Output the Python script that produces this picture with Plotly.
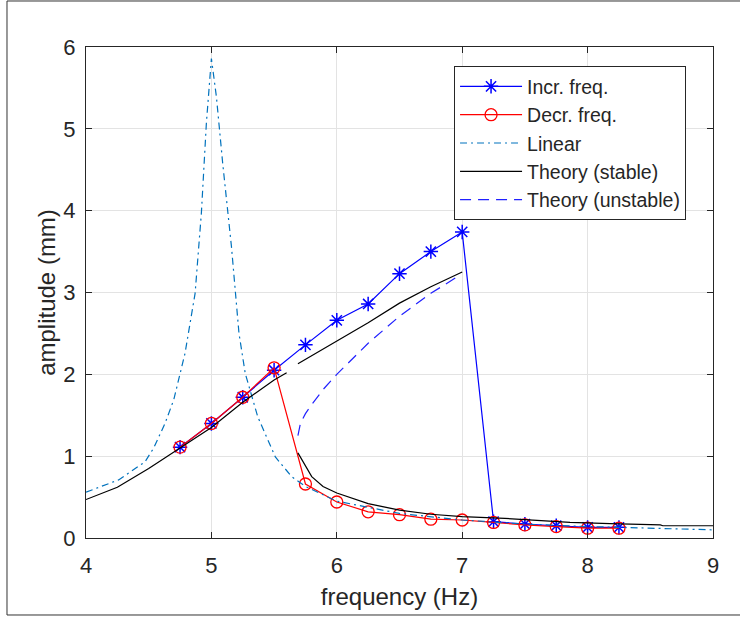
import plotly.graph_objects as go

# ---- data ----
freq_exp = [4.75, 5.0, 5.25, 5.5, 5.75, 6.0, 6.25, 6.5, 6.75, 7.0, 7.25, 7.5, 7.75, 8.0, 8.25]
amp_incr = [1.11, 1.40, 1.72, 2.05, 2.36, 2.66, 2.86, 3.23, 3.50, 3.74, 0.20, 0.17, 0.15, 0.13, 0.13]
amp_decr = [1.11, 1.40, 1.72, 2.08, 0.66, 0.44, 0.32, 0.285, 0.23, 0.22, 0.19, 0.16, 0.14, 0.12, 0.12]

freq_lin = [4.0, 4.26, 4.47, 4.54, 4.63, 4.70, 4.79, 4.87, 4.92, 4.96, 5.0, 5.04, 5.09, 5.16,
            5.22, 5.27, 5.37, 5.51, 5.64, 5.75, 6.0, 6.5, 7.0, 7.5, 8.0, 8.5, 9.0]
amp_lin = [0.56, 0.71, 0.93, 1.10, 1.40, 1.69, 2.26, 2.99, 3.97, 5.07, 5.86, 5.39, 4.58, 3.56,
           2.50, 2.01, 1.48, 0.99, 0.75, 0.63, 0.45, 0.30, 0.22, 0.17, 0.14, 0.12, 0.10]

freq_st_low = [4.0, 4.25, 4.5, 4.75, 5.0, 5.25, 5.5, 5.6]
amp_st_low = [0.47, 0.62, 0.85, 1.10, 1.35, 1.66, 1.93, 2.02]
freq_st_up = [5.69, 6.0, 6.25, 6.5, 6.75, 7.0]
amp_st_up = [2.13, 2.41, 2.63, 2.87, 3.07, 3.25]
freq_st_after = [5.69, 5.8, 5.89, 6.0, 6.25, 6.5, 6.75, 7.0, 7.34, 7.62, 7.86, 8.18, 8.58, 8.6, 9.0]
amp_st_after = [1.04, 0.75, 0.63, 0.55, 0.42, 0.34, 0.29, 0.26, 0.24, 0.21, 0.19, 0.175, 0.16, 0.15, 0.15]

freq_unst = [5.69, 5.71, 5.75, 5.79, 5.9, 6.0, 6.25, 6.5, 6.75, 6.98]
amp_unst = [1.25, 1.40, 1.52, 1.61, 1.83, 2.0, 2.38, 2.71, 2.99, 3.21]

x_ticks = [4, 5, 6, 7, 8, 9]
y_ticks = [0, 1, 2, 3, 4, 5, 6]

FONT = "Liberation Sans, Arial, Helvetica, sans-serif"
AX = "#262626"

fig = go.Figure()

fig.add_trace(go.Scatter(
    x=freq_exp, y=amp_incr, name="Incr. freq.", mode="lines+markers",
    line=dict(color="#0000FF", width=1.2),
    marker=dict(symbol="asterisk-open", size=12, line=dict(color="#0000FF", width=1.5)),
))
fig.add_trace(go.Scatter(
    x=freq_exp, y=amp_decr, name="Decr. freq.", mode="lines+markers",
    line=dict(color="#FF0000", width=1.2),
    marker=dict(symbol="circle-open", size=12, line=dict(color="#FF0000", width=1.3)),
))
fig.add_trace(go.Scatter(
    x=freq_lin, y=amp_lin, name="Linear", mode="lines",
    line=dict(color="#0072BD", width=1.2, dash="7px,4px,2px,4px"),
))
st_x = freq_st_low + [None] + freq_st_up + [None] + freq_st_after
st_y = amp_st_low + [None] + amp_st_up + [None] + amp_st_after
fig.add_trace(go.Scatter(
    x=st_x, y=st_y, name="Theory (stable)", mode="lines", connectgaps=False,
    line=dict(color="#000000", width=1.2),
))
fig.add_trace(go.Scatter(
    x=freq_unst, y=amp_unst, name="Theory (unstable)", mode="lines",
    line=dict(color="#2020FF", width=1.2, dash="11px,7px"),
))

axis_common = dict(
    showline=True, linecolor=AX, linewidth=1, mirror="ticks",
    ticks="inside", ticklen=6, tickcolor=AX, tickwidth=1,
    showgrid=True, gridcolor="#e3e3e3", gridwidth=1, zeroline=False,
    tickfont=dict(family=FONT, size=22, color=AX), automargin=False,
)

fig.update_layout(
    width=740, height=617,
    margin=dict(l=86, r=27, t=47, b=79),
    paper_bgcolor="white", plot_bgcolor="white",
    font=dict(family=FONT, color=AX),
    xaxis=dict(range=[4, 9], tickvals=x_ticks, ticktext=[str(v) for v in x_ticks],
               title=dict(text="frequency (Hz)", font=dict(family=FONT, size=24, color=AX), standoff=10),
               ticklabelstandoff=8, **axis_common),
    yaxis=dict(range=[0, 6], tickvals=y_ticks, ticktext=[str(v) for v in y_ticks],
               title=dict(text="amplitude (mm)", font=dict(family=FONT, size=24, color=AX), standoff=0),
               ticklabelstandoff=5, **axis_common),
    legend=dict(x=0.587, y=0.961, xanchor="left", yanchor="top",
                bgcolor="white", bordercolor=AX, borderwidth=1,
                font=dict(family=FONT, size=19.5, color=AX),
                tracegroupgap=0, itemwidth=62),
    showlegend=True,
)

# outer figure border
fig.add_shape(type="rect", xref="paper", yref="paper",
              x0=-0.126, x1=1.06, y0=-0.1568, y1=1.0937,
              line=dict(color="#333333", width=1), fillcolor="rgba(0,0,0,0)", layer="below")

fig.write_html("out.html",
               config={"displayModeBar": False},
               post_script="document.body.style.margin='0';document.body.style.overflow='hidden';")
